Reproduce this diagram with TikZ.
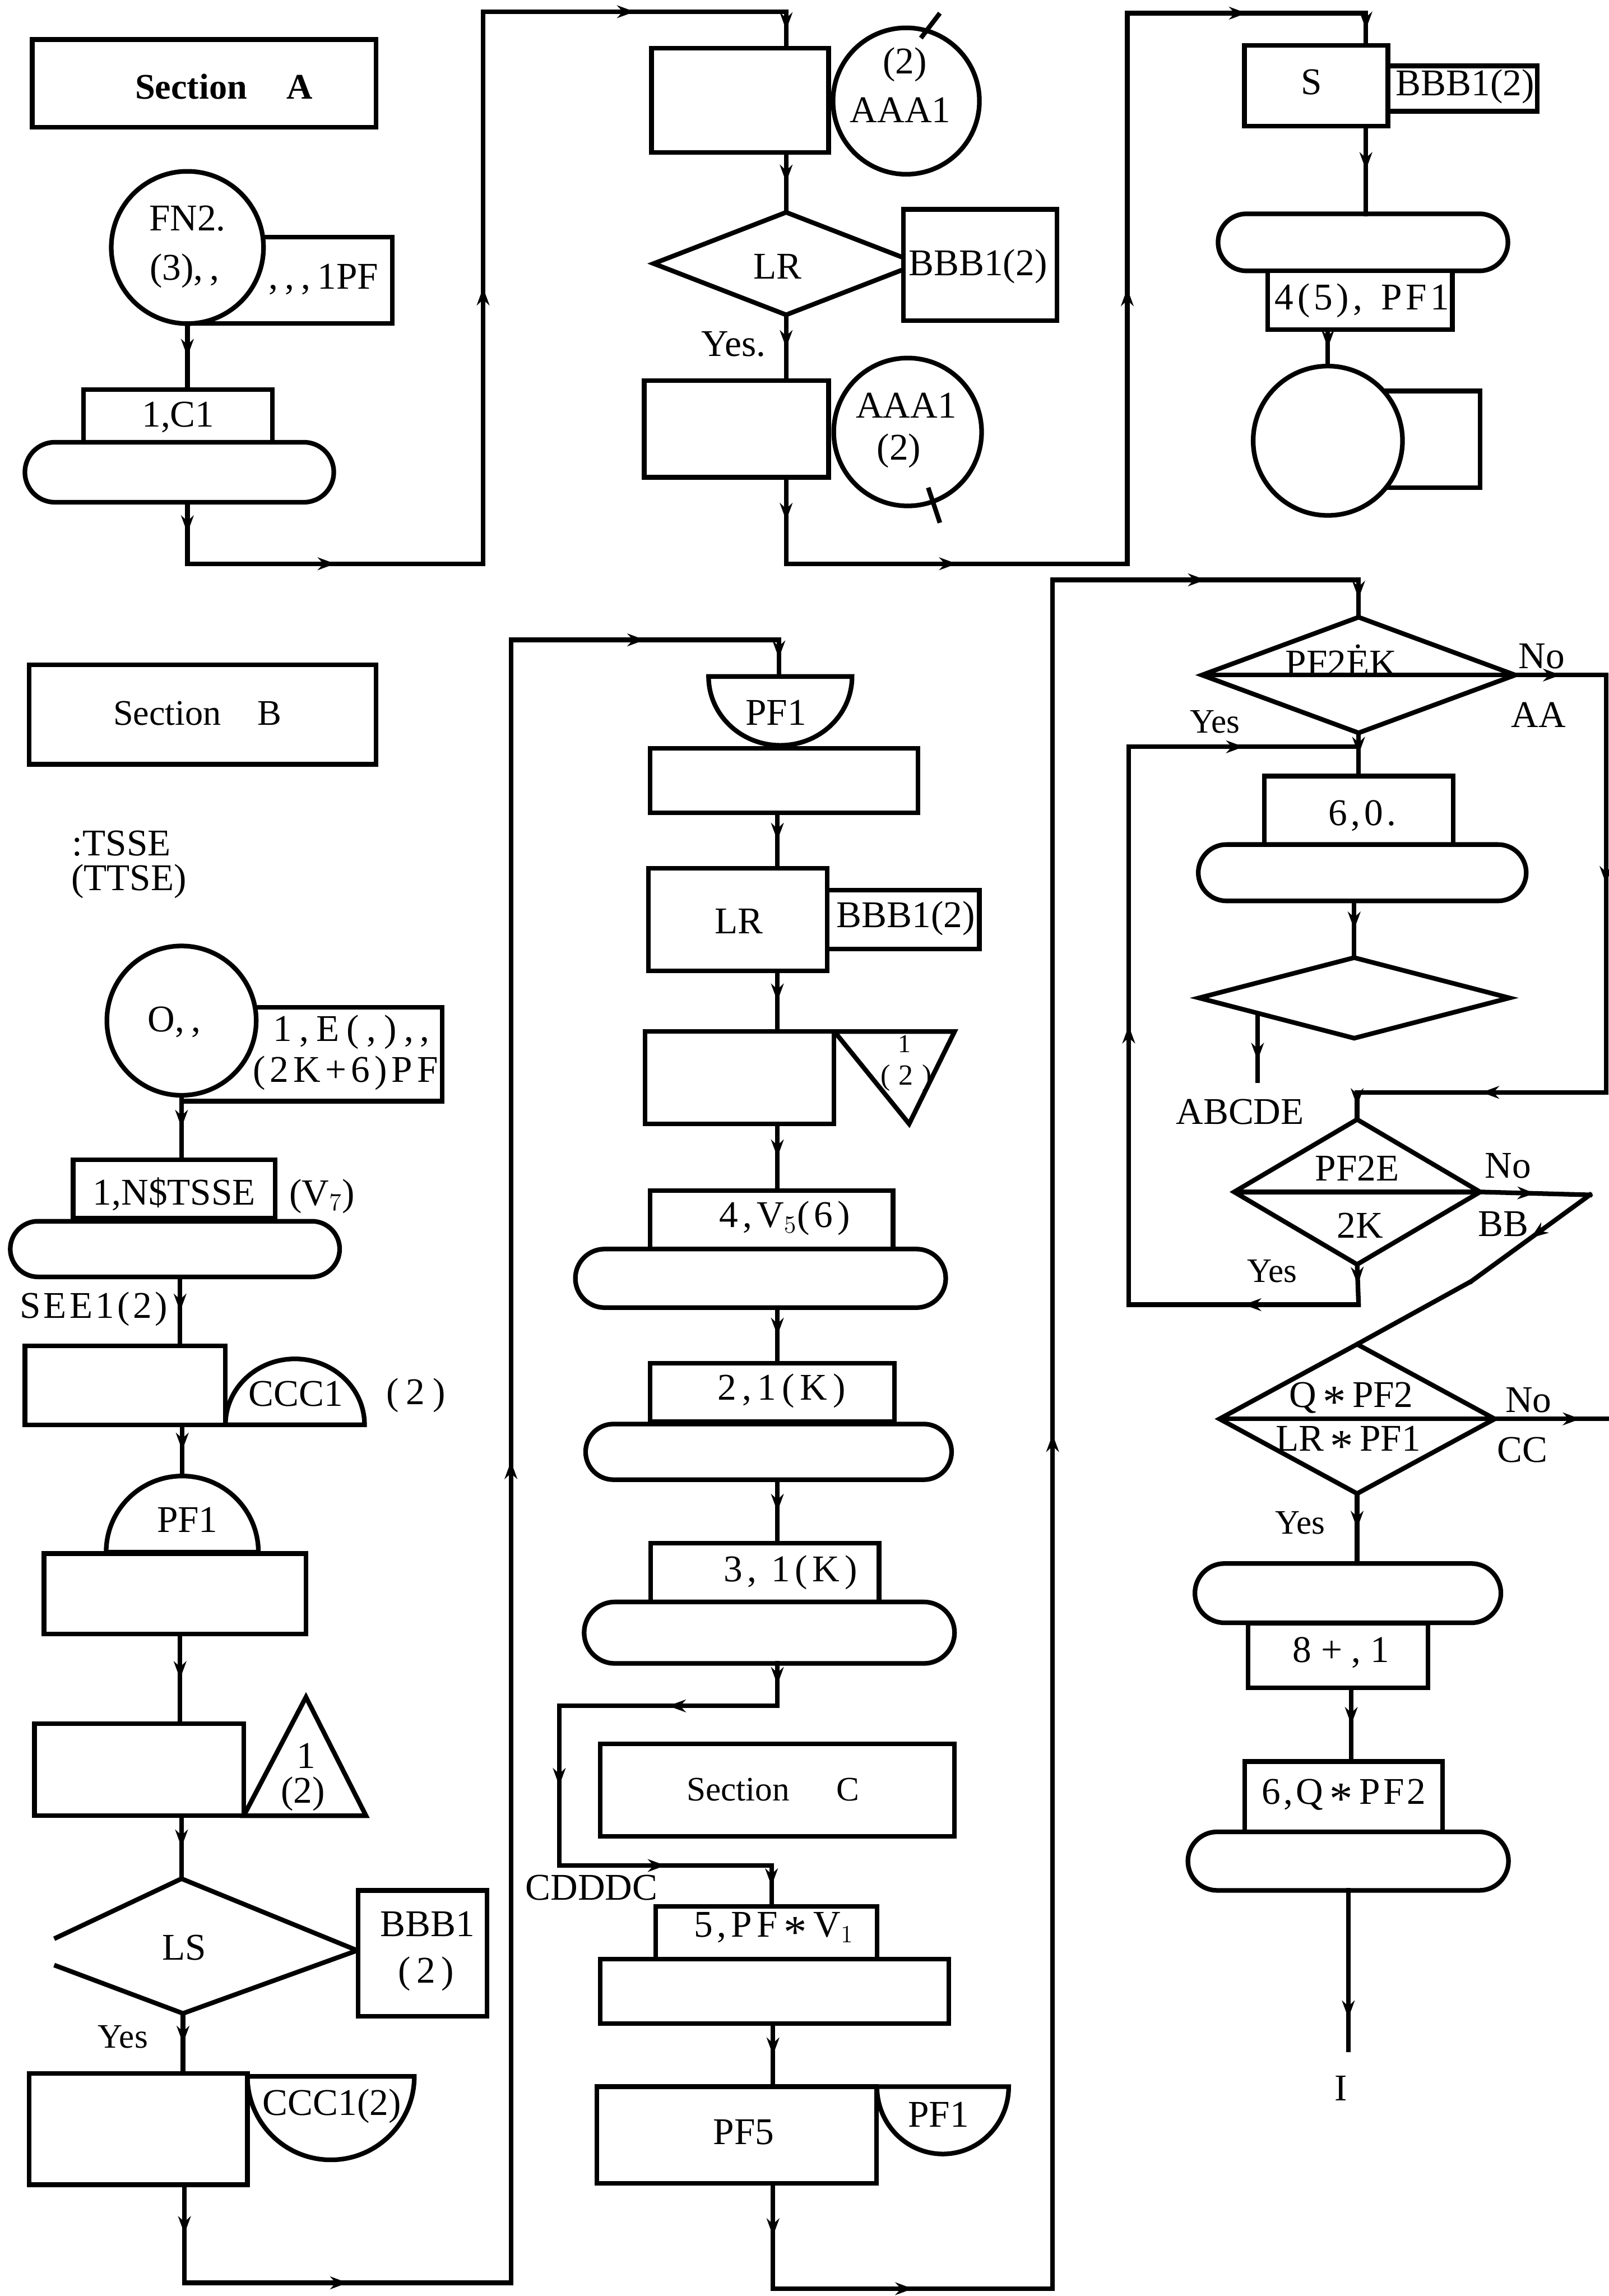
\documentclass[tikz,border=0pt]{standalone}
\usepackage{fontspec}
\setmainfont{Liberation Serif}
\usetikzlibrary{shapes.geometric,shapes.misc,arrows.meta,decorations.markings}
\newcommand\fsz[1]{\fontsize{#1}{#1}\selectfont}
\newcommand\lsp[1]{\addfontfeature{LetterSpace=#1}}
\newcommand\cma{,\hspace{0.18em}}
\newcommand\astr{\raisebox{-0.27em}{\fontsize{27}{27}\selectfont *}}
\begin{document}
\begin{tikzpicture}[x=0.3mm,y=-0.3mm,
  line width=0.95mm, line join=miter,
  every node/.style={font=\fsz{22}, inner sep=0pt, outer sep=0pt},
  sz/.style 2 args={minimum width=#1*0.3mm, minimum height=#2*0.3mm},
  bx/.style={draw, rectangle, fill=white},
  term/.style={draw, rounded rectangle, fill=white},
  circ/.style={draw, circle, fill=white, minimum size=#1*0.3mm},
  dia/.style={draw, diamond, fill=white},
  ma/.style={line cap=rect, postaction={decorate}, decoration={markings, mark=at position #1 with {\arrow{Stealth[length=3.6mm,width=2.6mm]}}}},
  ma/.default=0.5]
\fill[white] (0,0) rectangle (1099,1568);
\useasboundingbox (0,0) rectangle (1099,1568);

% ================= Column A =================
\node[bx, sz={235}{60}] (secA) at (139.5,57) {};
\node[font=\fsz{21}\bfseries] (secAt) at (153,59) {Section\hspace{1.1em}A};
\node[bx, sz={141}{59}] (pfA) at (197.5,191.5) {};
\node[circ=104] (cFN) at (128,169) {};
\node (cFNa) at (128,149) {FN2.};
\node (cFNb) at (126,185) {(3)\cma\cma};
\node (pfAt) at (221,191) {\cma\cma\cma1PF};
\node[bx, sz={129}{37}] (bC1) at (121.5,284.5) {};
\node (bC1t) at (121.7,285) {1,C1};
\node[term, sz={211}{41}] (tA) at (122.5,322.5) {};

% ================= Column 2 top =================
\node[bx, sz={121}{71}] (r1) at (505.5,68.5) {};
\node[circ=100] (cA1) at (619,69) {};
\node (cA1a) at (618,44) {(2)};
\node (cA1b) at (615,75) {AAA1};
\draw (629,26) -- (642,9);
\node[dia, sz={181}{70}] (dLR) at (537,180) {};
\node (dLRt) at (531,182) {LR};
\node[bx, sz={105}{76}] (bBB1) at (669.5,181) {};
\node (bBB1t) at (668,182) {BBB1(2)};
\node (yes1) at (501,235) {Yes.};
\node[bx, sz={126}{66}] (r2) at (503,293) {};
\node[circ=101] (cA2) at (620,295) {};
\node (cA2a) at (619,277) {AAA1};
\node (cA2b) at (614,308) {(2)};
\draw (634,333) -- (642,357);

% ================= Column 3 top =================
\node[bx, sz={98}{55}] (rS) at (899,58.5) {};
\node (rSt) at (896,56) {S};
\node[bx, sz={102}{31}] (bBB2) at (999,60.5) {};
\node (bBB2t) at (1000.8,59) {BBB1(2)};
\node[term, sz={198}{39}] (tS) at (931,165.5) {};
\node[bx, sz={126}{40}] (b45) at (929,205) {};
\node[font=\fsz{22}\lsp{10}] (b45t) at (930.5,205.4) {4(5),\hspace{0.5em}PF1};
\node[bx, sz={104}{66}] (bS) at (959,300) {};
\node[circ=102] (cS) at (907,301) {};

% connectors A
\coordinate (a1) at (128,385);
\coordinate (a2) at (330,385);
\coordinate (a3) at (330,8);
\coordinate (a4) at (537,8);
\draw[ma] (cFN.south) -- (cFN.south |- bC1.north);
\draw[ma] (tA.south -| a1) -- (a1);
\draw[ma] (a1) -- (a2);
\draw[ma] (a2) -- (a3);
\draw[ma] (a3) -- (a4);
\draw[ma] (a4) -- (a4 |- r1.north);
% connectors column 2 top
\coordinate (b1) at (537,385);
\coordinate (b2) at (770,385);
\coordinate (b3) at (770,9);
\coordinate (b4) at (933,9);
\draw[ma] (r1.south -| dLR.north) -- (dLR.north);
\draw[ma] (dLR.south) -- (dLR.south |- r2.north);
\draw[ma] (r2.south -| b1) -- (b1);
\draw[ma] (b1) -- (b2);
\draw[ma] (b2) -- (b3);
\draw[ma] (b3) -- (b4);
\draw[ma] (b4) -- (b4 |- rS.north);
% connectors column 3 top
\draw[ma] (rS.south -| b4) -- (b4 |- tS.north);
\draw[ma] (b45.south -| cS.north) -- (cS.north);

% ================= Column B =================
\node[bx, sz={237}{68}] (secB) at (138.5,488) {};
\node[font=\fsz{21}] (secBt) at (134.8,487) {Section\hspace{1em}B};
\node (tsse1) at (83,576) {:TSSE};
\node (tsse2) at (88,602) {(TTSE)};
\node[bx, sz={178}{64}] (bE) at (213,720) {};
\node[circ=102] (cO) at (124,697) {};
\node (cOt) at (119,698) {O\cma\cma};
\node[font=\fsz{22}\lsp{20}] (bEa) at (240,705) {1,E(,)\cma\cma};
\node[font=\fsz{22}\lsp{12}] (bEb) at (236,733) {(2K+6)PF};
\node[bx, sz={138}{40}] (bN) at (119,812) {};
\node (bNt) at (119,815.5) {1,N\$TSSE};
\node (v7) at (220,817) {(V$_7$)};
\node[term, sz={225}{38}] (tB) at (119.5,853) {};
\node[font=\fsz{22}\lsp{8}] (see) at (64,894) {SEE1(2)};
\node[bx, sz={137}{54}] (rB1) at (85.5,946) {};
\coordinate (dCl) at (154,973);
\draw (dCl) arc[start angle=180, end angle=360, x radius=47.5, y radius=45] -- cycle;
\node (dCt) at (202,952) {CCC1};
\node[font=\fsz{22}\lsp{20}] (dCx) at (284,953) {(2)};
\coordinate (dPFl) at (72.5,1060);
\coordinate (dPFtop) at (124.5,1008);
\draw (dPFl) arc[start angle=180, end angle=360, x radius=52, y radius=52] -- cycle;
\node (dPFt) at (128,1038) {PF1};
\node[bx, sz={179}{55}] (rB2) at (119.5,1088.5) {};
\node[bx, sz={143}{63}] (rB3) at (95,1208.5) {};
\draw (166.5,1240) -- (209,1159) -- (250,1240) -- cycle;
\node (triBa) at (209,1199) {1};
\node (triBb) at (207,1225) {(2)};
\coordinate (dLSt) at (124,1283);
\coordinate (dLSr) at (244,1332);
\coordinate (dLSb) at (125,1375);
\draw (37,1324) -- (dLSt) -- (dLSr) -- (dLSb) -- (37,1342);
\node (dLS) at (126,1330) {LS};
\node[bx, sz={88}{86}] (bBB3) at (288.6,1334) {};
\node (bBB3a) at (292,1314) {BBB1};
\node[font=\fsz{22}\lsp{15}] (bBB3b) at (291,1348) {(2)};
\node[font=\fsz{20}] (yes2) at (84,1391) {Yes};
\node[bx, sz={149}{76}] (rB4) at (94.5,1454) {};
\coordinate (bCl) at (169,1418);
\draw (bCl) arc[start angle=180, end angle=0, x radius=57, y radius=57] -- cycle;
\node (bCt) at (226.7,1438.5) {CCC1(2)};

% connectors B
\coordinate (xB) at (123,0);
\coordinate (c1) at (126,1559);
\coordinate (c2) at (349,1559);
\coordinate (c3) at (349,437);
\coordinate (c4) at (532,437);
\coordinate (bPFtop) at (532,462);
\draw[ma] (cO.south) -- (cO.south |- bN.north);
\draw[ma] (tB.south -| xB) -- (rB1.north -| xB);
\draw[ma] (rB1.south -| dPFtop) -- (dPFtop);
\draw[ma] (rB2.south -| xB) -- (rB3.north -| xB);
\draw[ma] (rB3.south -| dLSt) -- (dLSt);
\draw[ma] (dLSb) -- (dLSb |- rB4.north);
\draw[ma] (rB4.south -| c1) -- (c1);
\draw[ma] (c1) -- (c2);
\draw[ma] (c2) -- (c3);
\draw[ma] (c3) -- (c4);
\draw[ma] (c4) -- (bPFtop);

% ================= Column 2 lower =================
\draw (484,462) arc[start angle=180, end angle=0, x radius=49, y radius=47] -- cycle;
\node (bPFt) at (530,486.6) {PF1};
\node[bx, sz={183}{44}] (rC1) at (535.5,533) {};
\node[bx, sz={122}{70}] (rLR) at (504,628) {};
\node (rLRt) at (504.6,629) {LR};
\node[bx, sz={104}{40}] (bBB4) at (617,628) {};
\node (bBB4t) at (618.7,627) {BBB1(2)};
\node[bx, sz={129}{63}] (rC2) at (505,736) {};
\draw (570,704.5) -- (652,704.5) -- (621,767.5) -- cycle;
\node[font=\fsz{15}] (triCa) at (618,713) {1};
\node[font=\fsz{17}\lsp{30}] (triCb) at (619,736) {(2)};
\node[bx, sz={166}{40}] (b4V) at (527,833) {};
\node[font=\fsz{22}\lsp{12}] (b4Vt) at (536,832) {4,V$_5$(6)};
\node[term, sz={253}{40}] (tC1) at (519.5,873) {};
\node[bx, sz={167}{40}] (b21K) at (527.5,951) {};
\node[font=\fsz{22}\lsp{15}] (b21Kt) at (534,950) {2,1(K)};
\node[term, sz={250}{38}] (tC2) at (525,991.5) {};
\node[bx, sz={156}{42}] (b31K) at (522.4,1075) {};
\node[font=\fsz{22}\lsp{13}] (b31Kt) at (540,1074) {3, 1(K)};
\node[term, sz={253}{42}] (tC3) at (525.5,1115) {};
\node[bx, sz={242}{63}] (secC) at (531,1222.5) {};
\node[font=\fsz{20}] (secCt) at (528,1222) {Section\hspace{1.36em}C};
\node (cdddc) at (404,1289) {CDDDC};
\node[bx, sz={151}{36}] (b5PF) at (523.5,1320) {};
\node[font=\fsz{22}\lsp{12}] (b5PFt) at (528.5,1318) {5,PF\,\astr\,V$_1$};
\node[bx, sz={238}{44}] (rC3) at (529,1360) {};
\node[bx, sz={191}{66}] (rPF5) at (503.3,1458) {};
\node (rPF5t) at (508,1456) {PF5};
\draw (599,1425) arc[start angle=180, end angle=0, x radius=45, y radius=46] -- cycle;
\node (bPF2t) at (641,1444) {PF1};

% connectors column 2 lower
\coordinate (xC) at (531,0);
\coordinate (d1) at (531,1165);
\coordinate (d2) at (382,1165);
\coordinate (d3) at (382,1274);
\coordinate (d4) at (527,1274);
\coordinate (e1) at (528,1563);
\coordinate (e2) at (719,1563);
\coordinate (e3) at (719,396);
\coordinate (e4) at (928,396);
\draw[ma] (rC1.south -| xC) -- (rLR.north -| xC);
\draw[ma] (rLR.south -| xC) -- (rC2.north -| xC);
\draw[ma] (rC2.south -| xC) -- (b4V.north -| xC);
\draw[ma] (tC1.south -| xC) -- (b21K.north -| xC);
\draw[ma] (tC2.south -| xC) -- (b31K.north -| xC);
\draw[ma] (tC3.south -| d1) -- (d1);
\draw[ma] (d1) -- (d2);
\draw[ma] (d2) -- (d3);
\draw[ma] (d3) -- (d4);
\draw[ma] (d4) -- (d4 |- b5PF.north);
\draw[ma] (rC3.south -| e1) -- (rPF5.north -| e1);
\draw[ma] (rPF5.south -| e1) -- (e1);
\draw[ma] (e1) -- (e2);
\draw[ma] (e2) -- (e3);
\draw[ma] (e3) -- (e4);

% ================= Column 3 lower =================
\node[dia, sz={214}{79}] (dPK) at (928,461) {};
\draw (dPK.west) -- (dPK.east);
\node (dPKt) at (916,451) {PF2ĖK};
\node (no1) at (1053,448) {No};
\node (aa) at (1051,488) {AA};
\node[font=\fsz{20}] (yes3) at (830,493) {Yes};
\node[bx, sz={129}{47}] (b60) at (928,553.5) {};
\node[font=\fsz{22}\lsp{10}] (b60t) at (930.6,557) {6,0.};
\node[term, sz={224}{38.5}] (tD) at (930.5,596) {};
\node[dia, sz={212}{55}] (dE) at (925,681.5) {};
\coordinate (abc1) at (859,692);
\coordinate (abc2) at (859,738);
\node (abcde) at (847,759.5) {ABCDE};
\node[dia, sz={168}{99}] (dP2E) at (927,814) {};
\coordinate (bbR) at (1086,816);
\coordinate (bbM) at (1005,875);
\draw (dP2E.west) -- (dP2E.east);
\node (dP2Ea) at (927,798) {PF2E};
\node (dP2Eb) at (929,837) {2K};
\node (no2) at (1030,796) {No};
\node (bb) at (1027,836) {BB};
\node[font=\fsz{20}] (yes4) at (869,868) {Yes};
\node[dia, sz={188}{102}] (dQ) at (927,969) {};
\coordinate (qR) at (1099,969);
\draw (dQ.west) -- (dQ.east);
\node (dQa) at (923,956) {Q\,\astr\,PF2};
\node (dQb) at (921,986) {LR\,\astr\,PF1};
\node (no3) at (1044,956) {No};
\node (cc) at (1040,990) {CC};
\node[font=\fsz{20}] (yes5) at (888,1040) {Yes};
\node[term, sz={209}{40.5}] (tE1) at (920.7,1088) {};
\node[bx, sz={123}{44}] (b8) at (914,1130.6) {};
\node (b8t) at (916,1128.6) {8 + , 1};
\node[bx, sz={135}{48}] (b6Q) at (917.8,1227) {};
\node[font=\fsz{22}\lsp{8}] (b6Qt) at (918,1227) {6,Q\,\astr\,PF2};
\node[term, sz={219}{40}] (tE2) at (920.9,1271) {};
\coordinate (iEnd) at (921,1400);
\node (iT) at (916,1426) {I};

% connectors column 3 lower
\coordinate (y1) at (928,510);
\coordinate (y2) at (771,510);
\coordinate (y3) at (771,891);
\coordinate (y4) at (928,891);
\coordinate (z1) at (1097,461);
\coordinate (z2) at (1097,746);
\coordinate (z3) at (927,746);
\coordinate (xE) at (923,0);
\draw[ma] (e4) -- (dPK.north);
\draw[ma] (dPK.south) -- (dPK.south |- b60.north);
\draw[ma] (dPK.east) -- (z1);
\draw[ma] (z1) -- (z2);
\draw[ma] (z2) -- (z3);
\draw[ma] (z3) -- (dP2E.north);
\draw[ma] (tD.south -| dE.north) -- (dE.north);
\draw[ma=0.7] (abc1) -- (abc2);
\draw[ma] (dP2E.east) -- (bbR);
\draw[ma] (bbR) -- (bbM);
\draw (bbM) -- (dQ.north);
\draw[ma] (dP2E.south) -- (y4);
\draw[ma] (y4) -- (y3);
\draw[ma] (y3) -- (y2);
\draw[ma] (y2) -- (y1);
\draw[ma=0.75] (dQ.east) -- (qR);
\draw[ma] (dQ.south) -- (dQ.south |- tE1.north);
\draw[ma] (b8.south -| xE) -- (b6Q.north -| xE);
\draw[ma=0.8] (tE2.south -| iEnd) -- (iEnd);
\end{tikzpicture}
\end{document}
